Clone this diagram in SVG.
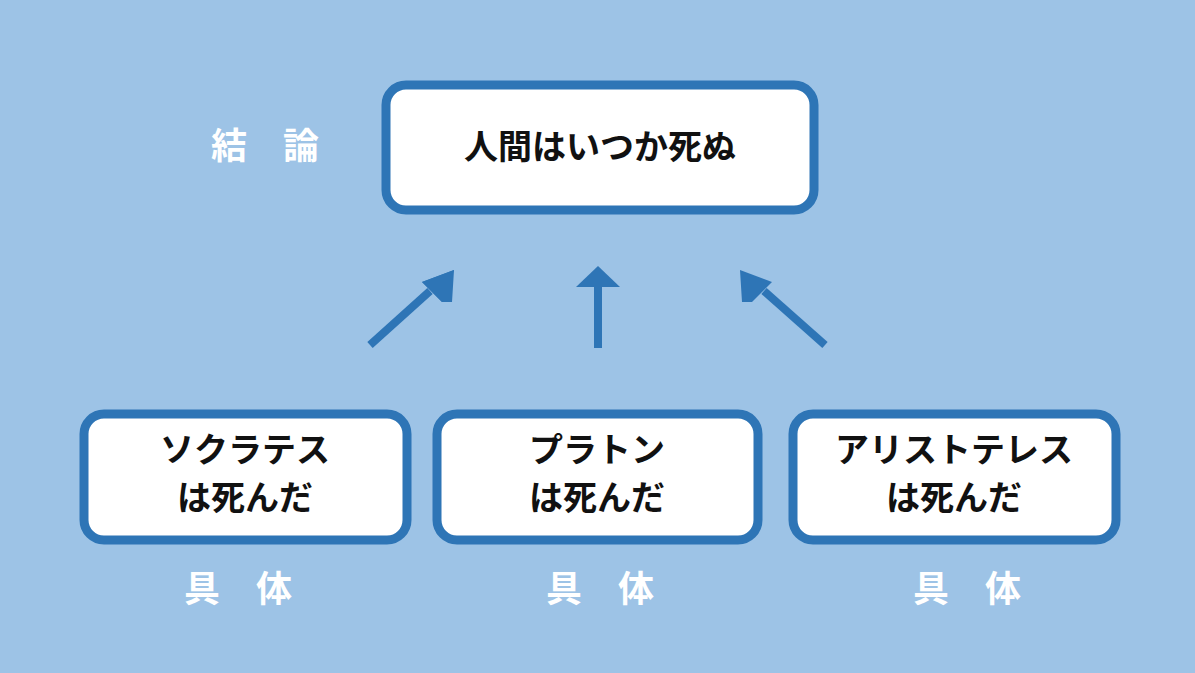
<svg xmlns="http://www.w3.org/2000/svg" width="1195" height="673" viewBox="0 0 1195 673">
<defs>
<style>
.box{fill:#fff;stroke:#2E75B6;stroke-width:9}
.t{font-family:"Noto Sans CJK JP",sans-serif;font-weight:bold;font-size:34px;fill:#111;text-anchor:middle}
.w{font-family:"Noto Sans CJK JP",sans-serif;font-weight:bold;font-size:36px;fill:#fff;text-anchor:middle}
.c{stroke:#2E75B6;stroke-width:8;fill:none}
</style>
<marker id="ah" viewBox="0 0 10 10" refX="6" refY="5" markerWidth="5" markerHeight="5" orient="auto" markerUnits="userSpaceOnUse" overflow="visible">
<path d="M-30,-22 L10,5 L-30,32 Z" fill="#2E75B6" transform="scale(1)"/>
</marker>
</defs>
<rect width="1195" height="673" fill="#9DC3E6"/>
<text class="w" x="265" y="159">結　論</text>
<g id="top"><rect class="box" x="386" y="85" width="428" height="125" rx="20"/><text class="t" x="600" y="159">人間はいつか死ぬ</text></g>
<g id="n1"><rect class="box" x="84" y="414" width="323" height="126" rx="20"/><text class="t" x="245" y="462">ソクラテス</text><text class="t" x="245" y="510">は死んだ</text></g>
<g id="n2"><rect class="box" x="437" y="414" width="321" height="126" rx="20"/><text class="t" x="597" y="462">プラトン</text><text class="t" x="597" y="510">は死んだ</text></g>
<g id="n3"><rect class="box" x="793" y="414" width="323" height="126" rx="20"/><text class="t" x="954" y="462">アリストテレス</text><text class="t" x="954" y="510">は死んだ</text></g>
<text class="w" x="238" y="602">具　体</text>
<text class="w" x="600" y="602">具　体</text>
<text class="w" x="967" y="602">具　体</text>
<g id="connectors">
<line class="c" x1="370" y1="345" x2="430" y2="291"/>
<polygon points="454,270 422,282 442,302" fill="#2E75B6"/>
<polygon points="454,270 452,302 442,302 422,282" fill="#2E75B6"/>
<line class="c" x1="598" y1="348" x2="598" y2="285"/>
<polygon points="598,266 576,287 620,287" fill="#2E75B6"/>
<line class="c" x1="825" y1="345" x2="764" y2="291"/>
<polygon points="740,270 742,302 752,302 772,282" fill="#2E75B6"/>
</g>
</svg>
